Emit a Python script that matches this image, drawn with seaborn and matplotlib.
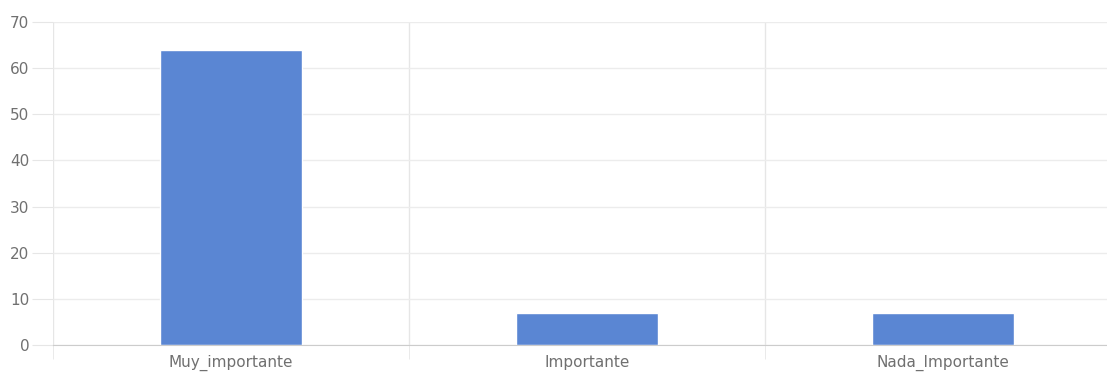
import pandas as pd
import seaborn as sns
import matplotlib.pyplot as plt
from matplotlib.ticker import FixedLocator

categorias = ['Muy_importante', 'Importante', 'Nada_Importante']
valores = [64, 7, 7]

df = pd.DataFrame({'categoria': categorias, 'valor': valores})

sns.set_style('white')
plt.rcParams['font.family'] = ['DejaVu Sans']

fig = plt.figure(figsize=(11.07, 3.74), dpi=100)
ax = fig.add_axes([0.0479, 0.0775, 0.9648, 0.8636])

sns.barplot(data=df, x='categoria', y='valor', color='#5a86d3', width=0.4,
            saturation=1, ax=ax, zorder=3)

ax.set_xlim(-0.5, 2.5)
ax.set_ylim(0, 70)
ax.set_yticks(range(0, 71, 10))
ax.set_xlabel('')
ax.set_ylabel('')

# separadores entre categorias
ax.xaxis.set_minor_locator(FixedLocator([-0.5, 0.5, 1.5, 2.5]))
ax.grid(axis='x', which='minor', color='#e6e6e6', linewidth=1)
ax.grid(axis='y', which='major', color='#ececec', linewidth=1)
ax.tick_params(axis='x', which='major', length=0, pad=7, labelsize=11, labelcolor='#707070')
ax.tick_params(axis='x', which='minor', length=10, color='#e6e6e6', bottom=True)
ax.tick_params(axis='y', length=15, color='#e6e6e6', labelsize=11, labelcolor='#707070', pad=2, left=True)

for s in ['top', 'right', 'left']:
    ax.spines[s].set_visible(False)
ax.spines['bottom'].set_color('#cccccc')
ax.spines['bottom'].set_zorder(4)

plt.savefig('out.png', dpi=100)
